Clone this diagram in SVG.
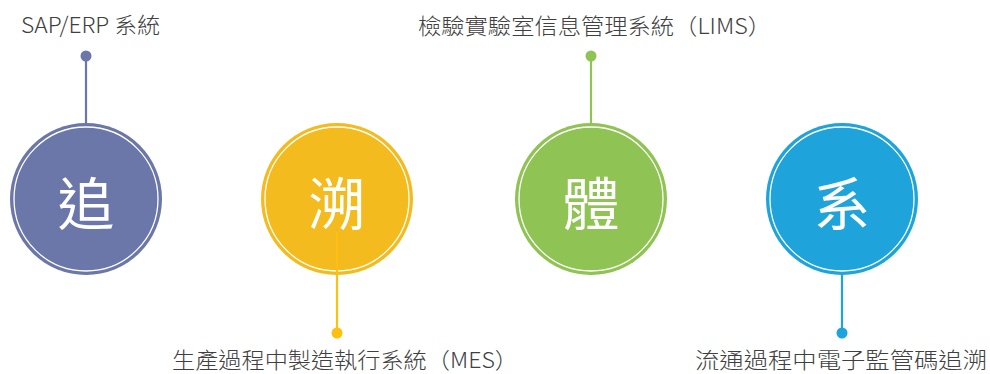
<svg xmlns="http://www.w3.org/2000/svg" width="990" height="374" viewBox="0 0 990 374">
  <style>
    .lbl { font-family: "Noto Sans CJK TC", "Noto Sans", sans-serif; font-size: 22px; fill: #404040; font-weight: 300; }
    .big { font-family: "Noto Sans CJK TC", sans-serif; font-size: 57px; fill: #ffffff; text-anchor: middle; dominant-baseline: central; }
    .ring { fill: none; stroke: #ffffff; stroke-width: 1.3; }
    .conn { stroke-width: 2.2; fill: none; }
  </style>
  <rect width="990" height="374" fill="#ffffff"/>
  <g id="node-zhui">
    <circle cx="86" cy="199" r="76" fill="#6A77A8"/>
    <circle cx="86" cy="199" r="72" class="ring"/>
    <text x="86" y="200" class="big">追</text>
  </g>
  <g id="node-su">
    <circle cx="337" cy="199" r="76" fill="#F4BB1F"/>
    <circle cx="337" cy="199" r="72" class="ring"/>
    <text x="337" y="200" class="big">溯</text>
  </g>
  <g id="node-ti">
    <circle cx="591" cy="199" r="76" fill="#8FC353"/>
    <circle cx="591" cy="199" r="72" class="ring"/>
    <text x="591" y="200" class="big">體</text>
  </g>
  <g id="node-xi">
    <circle cx="842" cy="199" r="76" fill="#1EA3DA"/>
    <circle cx="842" cy="199" r="72" class="ring"/>
    <text x="842" y="200" class="big">系</text>
  </g>
  <g id="connectors">
    <line x1="86" y1="56" x2="86" y2="123" class="conn" stroke="#6A77A8"/>
    <circle cx="86" cy="56" r="5.5" fill="#6A77A8"/>
    <line x1="337" y1="232" x2="337" y2="333" class="conn" stroke="#FDC010"/>
    <circle cx="337" cy="333" r="5.5" fill="#FDC010"/>
    <line x1="591" y1="56" x2="591" y2="123" class="conn" stroke="#8FC353"/>
    <circle cx="591" cy="56" r="5.5" fill="#8FC353"/>
    <line x1="842" y1="274" x2="842" y2="333" class="conn" stroke="#1EA3DA"/>
    <circle cx="842" cy="333" r="5.5" fill="#1EA3DA"/>
  </g>
  <g id="labels">
    <text x="21" y="33" class="lbl" textLength="139" lengthAdjust="spacingAndGlyphs">SAP/ERP 系統</text>
    <text x="418" y="34" class="lbl" textLength="353" lengthAdjust="spacingAndGlyphs">檢驗實驗室信息管理系統（LIMS）</text>
    <text x="172" y="368" class="lbl" textLength="346" lengthAdjust="spacingAndGlyphs">生產過程中製造執行系統（MES）</text>
    <text x="695" y="368" class="lbl" textLength="292" lengthAdjust="spacingAndGlyphs">流通過程中電子監管碼追溯</text>
  </g>
</svg>
